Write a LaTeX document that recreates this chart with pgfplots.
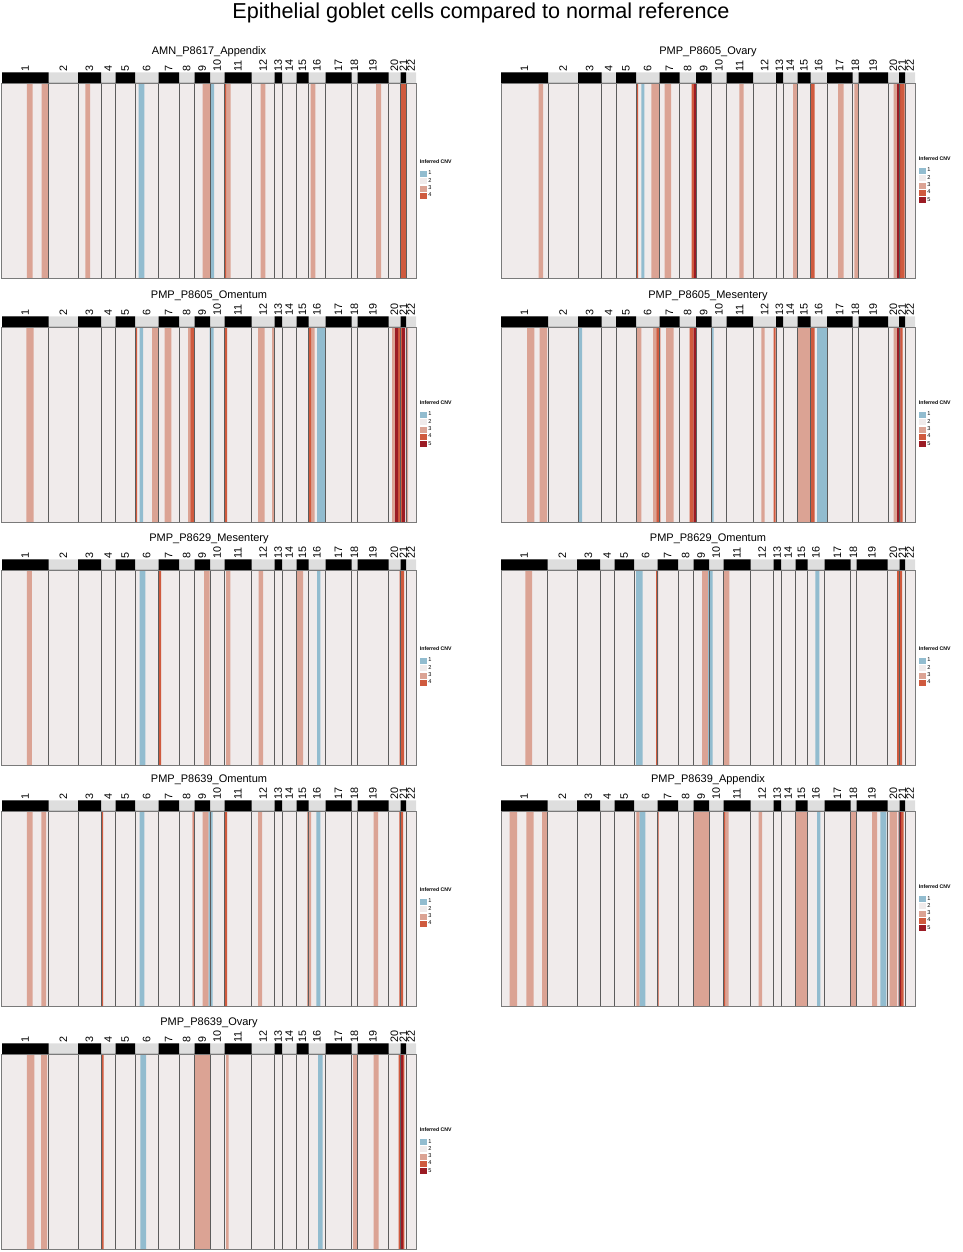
\documentclass[border=0pt]{standalone}
\usepackage{pgfplots}
\pgfplotsset{compat=1.18}
\usepackage{fontspec}
\setmainfont{Liberation Sans}

\definecolor{cnvA}{HTML}{92BCCF}
\definecolor{cnvB}{HTML}{F0EBEB}
\definecolor{cnvC}{HTML}{DBA394}
\definecolor{cnvD}{HTML}{CF5A3E}
\definecolor{cnvE}{HTML}{9B1B24}
\definecolor{chrgray}{HTML}{DEDEDE}
\definecolor{sepline}{HTML}{5C5C5C}
\definecolor{frameline}{HTML}{7A7A7A}

\pgfplotsset{
  stripe/.style={const plot, draw=none, fill=#1, forget plot},
  cnvkey/.style={legend image code/.code={\fill[#1] (0pt,-2.5pt) rectangle (6pt,2.5pt);}},
  chrbar/.style={scale only axis, width=414pt, height=10.5pt, xmin=0, xmax=414,
    ymin=0, ymax=1, anchor=south west, axis line style={draw=none}, ytick=\empty,
    major tick length=0pt, xticklabel pos=upper,
    xticklabels={1,2,3,4,5,6,7,8,9,10,11,12,13,14,15,16,17,18,19,20,21,22},
    xticklabel style={rotate=90, anchor=west, inner sep=1pt,
      font=\fontsize{10.8}{11}\selectfont}},
  heat/.style={scale only axis, width=414pt, height=195pt, xmin=0, xmax=414,
    ymin=0, ymax=1, anchor=south west, axis on top, ytick=\empty,
    xticklabels={}, xticklabel style={text opacity=0},
    major tick length=0pt, xmajorgrids, major grid style={sepline, line width=0.8pt},
    axis line style={frameline, line width=1pt},
    axis background/.style={fill=cnvB},
    legend cell align=left,
    legend style={anchor=north west, draw=none, fill=none, inner sep=0pt,
      font=\fontsize{5.6}{6}\selectfont, row sep=1.3pt, column sep=1.8pt,
      nodes={inner sep=0.3pt}}},
  grid A/.style={xtick={46.5,76,99,113.5,133,156.5,177,192.5,208,222.5,249.5,272.5,280,294.5,306.5,323.5,349.5,355.5,386.5,398.5,404}},
  grid B/.style={xtick={47,77,100.5,115,135,158.5,178.5,195,210.5,225.5,252,275,282,296.5,309.5,326,351.5,357.5,387,398,404}},
}

% chromosome bars (odd chromosomes black); #1 left, #2 bottom (pt)
\newcommand{\chrbarA}[2]{%
\begin{axis}[chrbar, at={(#1pt,#2pt)},
  xtick={23.25,61.25,87.5,106.25,123.25,144.75,166.75,184.75,200.25,215.25,236,261,276.25,287.25,300.5,315,336.5,352.5,371,392.5,401.25,409}]
  \addplot[stripe=chrgray] coordinates {(0,1)(414,0)} \closedcycle;
  \addplot[stripe=black] coordinates {(0,1)(46.5,0)(76,1)(99,0)(113.5,1)(133,0)(156.5,1)(177,0)(192.5,1)(208,0)(222.5,1)(249.5,0)(272.5,1)(280,0)(294.5,1)(306.5,0)(323.5,1)(349.5,0)(355.5,1)(386.5,0)(398.5,1)(404,0)} \closedcycle;
\end{axis}}
\newcommand{\chrbarB}[2]{%
\begin{axis}[chrbar, at={(#1pt,#2pt)},
  xtick={23.5,62,88.75,107.75,125,146.75,168.5,186.75,202.75,218,238.75,263.5,278.5,289.25,303,317.75,338.75,354.5,372.25,392.5,401,409}]
  \addplot[stripe=chrgray] coordinates {(0,1)(414,0)} \closedcycle;
  \addplot[stripe=black] coordinates {(0,1)(47,0)(77,1)(100.5,0)(115,1)(135,0)(158.5,1)(178.5,0)(195,1)(210.5,0)(225.5,1)(252,0)(275,1)(282,0)(296.5,1)(309.5,0)(326,1)(351.5,0)(357.5,1)(387,0)(398,1)(404,0)} \closedcycle;
\end{axis}}

% #1 left, #2 bottom, #3 bar bottom, #4 title, #5 chromosome set, #6 levels, #7 stripes
\newcommand{\cnvpanel}[7]{%
\ifnum#6>4 \def\legy{0.571}\def\tity{0.607}\else\def\legy{0.556}\def\tity{0.592}\fi
\node[anchor=base, font=\fontsize{11}{13}\selectfont] at (#1+207,#2+224) {#4};
\csname chrbar#5\endcsname{#1}{#3}
\begin{axis}[heat, grid #5, at={(#1pt,#2pt)}, legend style={at={(1.009,\legy)}}]
  #7
  \addlegendimage{cnvkey=cnvA}\addlegendentry{1}
  \addlegendimage{cnvkey=cnvB}\addlegendentry{2}
  \addlegendimage{cnvkey=cnvC}\addlegendentry{3}
  \addlegendimage{cnvkey=cnvD}\addlegendentry{4}
  \ifnum#6>4 \addlegendimage{cnvkey=cnvE}\addlegendentry{5}\fi
\end{axis}
\node[anchor=base west, inner sep=0pt, font=\bfseries\fontsize{5.2}{6}\selectfont]
  at (#1+417.7,#2+\tity*195) {Inferred CNV};
}

\begin{document}
\begin{tikzpicture}[x=1pt,y=1pt]
\path[use as bounding box] (0,0) rectangle (962,1252);
\node[anchor=base, font=\fontsize{21.6}{24}\selectfont] at (481,1233)
  {Epithelial goblet cells compared to normal reference};

\cnvpanel{2}{973}{1169}{AMN\_P8617\_Appendix}{A}{4}{
  \addplot[stripe=cnvC] coordinates {(25,1)(30.6,0)(39.5,1)(46,0)(83.3,1)(88,0)(200.5,1)(208,0)(224,1)(228.7,0)(258.7,1)(263.3,0)(308.7,1)(313.3,0)(374,1)(379,0)} \closedcycle;
  \addplot[stripe=cnvA] coordinates {(136.6,1)(142.3,0)(208,1)(212,0)} \closedcycle;
  \addplot[stripe=cnvD] coordinates {(222.5,1)(224,0)(399,1)(404,0)} \closedcycle;
}

\cnvpanel{501}{973}{1169}{PMP\_P8605\_Ovary}{B}{5}{
  \addplot[stripe=cnvC] coordinates {(37.7,1)(42,0)(150.3,1)(158.5,0)(163.7,1)(170,0)(238.3,1)(242.7,0)(292,1)(296,0)(337,1)(342.7,0)(353.3,1)(357,0)(392.7,1)(396,0)} \closedcycle;
  \addplot[stripe=cnvA] coordinates {(140.3,1)(143.3,0)} \closedcycle;
  \addplot[stripe=cnvD] coordinates {(135,1)(137,0)(190.5,1)(193,0)(309.5,1)(313.7,0)(399,1)(403.5,0)} \closedcycle;
  \addplot[stripe=cnvE] coordinates {(193,1)(195,0)(396,1)(399,0)} \closedcycle;
}

\cnvpanel{2}{729}{925}{PMP\_P8605\_Omentum}{A}{5}{
  \addplot[stripe=cnvC] coordinates {(24.3,1)(31.7,0)(150,1)(156.5,0)(162.7,1)(169.3,0)(186,1)(188.3,0)(256,1)(262.7,0)(270,1)(272.5,0)(309,1)(312.7,0)(390,1)(393,0)(404,1)(406,0)} \closedcycle;
  \addplot[stripe=cnvA] coordinates {(137.7,1)(141,0)(207.7,1)(211.7,0)(315,1)(323.5,0)} \closedcycle;
  \addplot[stripe=cnvD] coordinates {(133,1)(135,0)(188.3,1)(192.5,0)(222.5,1)(225,0)(306.5,1)(309,0)(396,1)(400,0)} \closedcycle;
  \addplot[stripe=cnvE] coordinates {(393,1)(396,0)(400,1)(403,0)} \closedcycle;
}

\cnvpanel{501}{729}{925}{PMP\_P8605\_Mesentery}{B}{5}{
  \addplot[stripe=cnvC] coordinates {(26,1)(33.3,0)(38.7,1)(46,0)(136,1)(140.3,0)(152,1)(155.3,0)(165,1)(172.7,0)(260.3,1)(263.7,0)(296.5,1)(309.5,0)(392.7,1)(396,0)} \closedcycle;
  \addplot[stripe=cnvA] coordinates {(78,1)(81,0)(210.5,1)(212.7,0)(316,1)(326,0)} \closedcycle;
  \addplot[stripe=cnvD] coordinates {(155.3,1)(159.3,0)(188.5,1)(192.7,0)(272.7,1)(274.5,0)(309.5,1)(313.7,0)(399.3,1)(401.5,0)} \closedcycle;
  \addplot[stripe=cnvE] coordinates {(192.7,1)(195,0)(396,1)(399.3,0)} \closedcycle;
}

\cnvpanel{2}{486}{682}{PMP\_P8629\_Mesentery}{A}{4}{
  \addplot[stripe=cnvC] coordinates {(25,1)(30,0)(202,1)(207.7,0)(224,1)(228.3,0)(256.7,1)(261,0)(295,1)(301,0)} \closedcycle;
  \addplot[stripe=cnvA] coordinates {(137.7,1)(143.3,0)(315,1)(318.3,0)} \closedcycle;
  \addplot[stripe=cnvD] coordinates {(157,1)(159,0)(397.5,1)(402,0)} \closedcycle;
}

\cnvpanel{501}{486}{682}{PMP\_P8629\_Omentum}{A}{4}{
  \addplot[stripe=cnvC] coordinates {(24.3,1)(31,0)(201,1)(207,0)(222.7,1)(228.3,0)} \closedcycle;
  \addplot[stripe=cnvA] coordinates {(135,1)(141.7,0)(207,1)(211.7,0)(314.3,1)(318.3,0)} \closedcycle;
  \addplot[stripe=cnvD] coordinates {(155,1)(157,0)(396,1)(401,0)} \closedcycle;
}

\cnvpanel{2}{245}{441}{PMP\_P8639\_Omentum}{A}{4}{
  \addplot[stripe=cnvC] coordinates {(25,1)(30.7,0)(39.3,1)(44,0)(200.7,1)(206.7,0)(256,1)(260,0)(305,1)(309,0)(371.7,1)(376,0)} \closedcycle;
  \addplot[stripe=cnvA] coordinates {(137.7,1)(142.3,0)(206.7,1)(210.7,0)(314.3,1)(318.3,0)} \closedcycle;
  \addplot[stripe=cnvD] coordinates {(99.3,1)(101,0)(190.5,1)(191.5,0)(222.3,1)(225,0)(397.3,1)(401,0)} \closedcycle;
}

\cnvpanel{501}{245}{441}{PMP\_P8639\_Appendix}{A}{5}{
  \addplot[stripe=cnvC] coordinates {(8.7,1)(16,0)(25.3,1)(32.7,0)(41,1)(46.5,0)(135.3,1)(138.7,0)(192.5,1)(208,0)(224.3,1)(227.7,0)(257.7,1)(261,0)(294.5,1)(306.5,0)(349.5,1)(355.5,0)(371,1)(376,0)(388.7,1)(396,0)} \closedcycle;
  \addplot[stripe=cnvA] coordinates {(138.7,1)(144.3,0)(316,1)(319.3,0)(379.3,1)(385.3,0)} \closedcycle;
  \addplot[stripe=cnvD] coordinates {(156,1)(157.7,0)(222.5,1)(224.3,0)(400,1)(402.7,0)} \closedcycle;
  \addplot[stripe=cnvE] coordinates {(397.5,1)(400,0)} \closedcycle;
}

\cnvpanel{2}{2}{198}{PMP\_P8639\_Ovary}{A}{5}{
  \addplot[stripe=cnvC] coordinates {(25,1)(32.3,0)(39,1)(45,0)(192.5,1)(208,0)(224,1)(226.7,0)(351,1)(355.5,0)(371.7,1)(376.7,0)} \closedcycle;
  \addplot[stripe=cnvA] coordinates {(138.3,1)(144,0)(316,1)(320.7,0)} \closedcycle;
  \addplot[stripe=cnvD] coordinates {(99.3,1)(101.7,0)(396.7,1)(399,0)(401,1)(402.3,0)} \closedcycle;
  \addplot[stripe=cnvE] coordinates {(399,1)(401,0)} \closedcycle;
}
\end{tikzpicture}
\end{document}
